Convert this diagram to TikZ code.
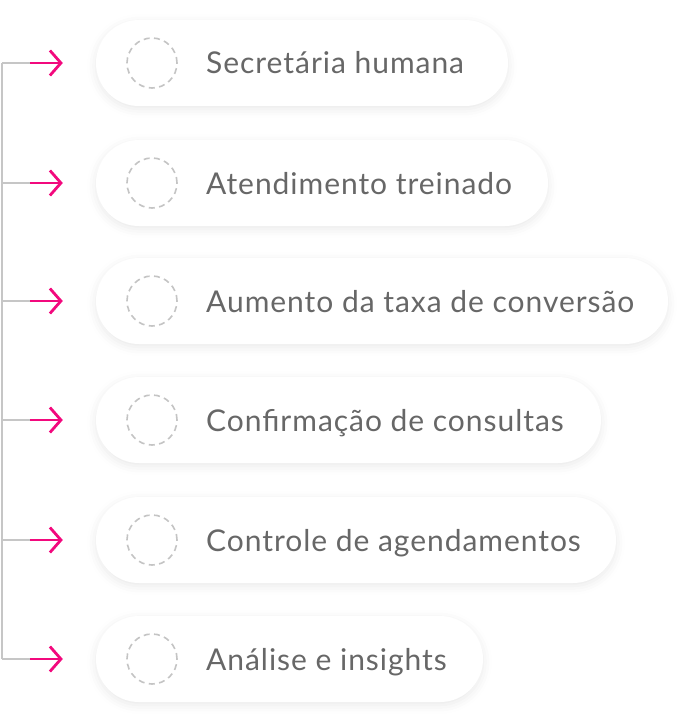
\documentclass[tikz,border=0pt]{standalone}
\usepackage{fontspec}
\setmainfont{Lato}[LetterSpace=3.2]
\usetikzlibrary{arrows.meta,shadows.blur}
\definecolor{pinkarrow}{HTML}{F2097D}
\definecolor{spinegray}{HTML}{C6C6C6}
\definecolor{labelgray}{HTML}{676767}
\definecolor{dotgray}{HTML}{C4C4C4}
\tikzset{
  pill/.style={fill=white, rounded corners=42.9pt, minimum height=86pt,
    inner sep=0pt, blur shadow={shadow xshift=0pt, shadow yshift=-3pt,
    shadow blur radius=9pt, shadow opacity=9}},
  dotcircle/.style={circle, draw=dotgray, line width=1.6pt,
    dash pattern=on 6pt off 4.4pt, minimum size=50pt, inner sep=0pt},
  itemlabel/.style={anchor=base west, inner sep=0pt, text=labelgray,
    font=\fontsize{30}{36}\selectfont},
  spine/.style={draw=spinegray, line width=1.8pt},
  pointer/.style={draw=pinkarrow, line width=2.8pt,
    -{Straight Barb[length=11pt,width=25pt]}}
}
\begin{document}
\begin{tikzpicture}[x=1pt,y=-1pt]
\useasboundingbox (0,0) rectangle (689,722);

% items: row centre / right edge of pill / label
\foreach \i/\y/\r/\txt in {1/63/508/Secretária humana,
    2/183/548/Atendimento treinado,
    3/301/668/Aumento da taxa de conversão,
    4/420/601/Confirmação de consultas,
    5/540/616/Controle de agendamentos,
    6/659/483/Análise e insights}{
  \node[pill, minimum width=\r pt-96pt] (p\i) at ({(96+\r)/2},\y) {};
  \node[dotcircle] (c\i) at (152,\y) {};
  \node[itemlabel] (t\i) at (206,\y+11) {\txt};
  \coordinate (s\i) at (2,\y);
  \coordinate (a\i) at (30,\y);
  \draw[spine] (s\i)--(a\i);
  \draw[pointer] (a\i)--([xshift=-33pt]p\i.west);
}

\draw[spine] (s1)--(s6);
\end{tikzpicture}
\end{document}
